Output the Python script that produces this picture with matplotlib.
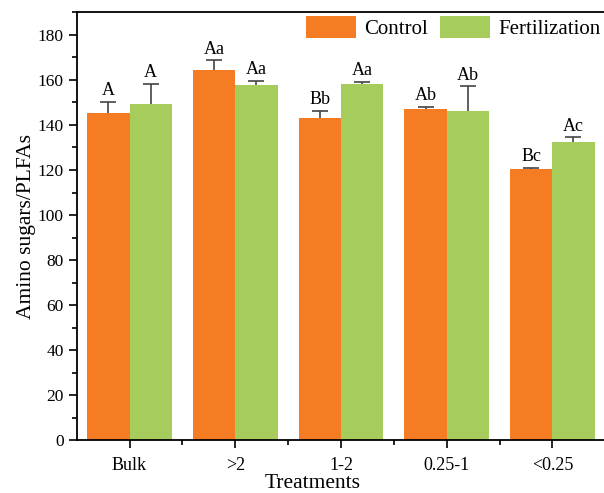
import matplotlib.pyplot as plt
import numpy as np
from matplotlib.ticker import MultipleLocator

plt.rcParams['font.family'] = ['Liberation Serif', 'DejaVu Serif']

treatments = ['Bulk', '>2', '1-2', '0.25-1', '<0.25']
control = [145.1, 164.3, 143.2, 147.2, 120.4]
control_err = [5.3, 4.4, 3.1, 0.7, 0.5]
fert = [149.1, 157.7, 158.1, 146.2, 132.4]
fert_err = [9.0, 1.9, 0.9, 10.9, 2.1]
control_lbl = ['A', 'Aa', 'Bb', 'Ab', 'Bc']
fert_lbl = ['A', 'Aa', 'Aa', 'Ab', 'Ac']

orange = '#F57C22'
green = '#A6CD5B'

fig = plt.figure(figsize=(6.04, 4.93), dpi=100)
ax = fig.add_axes([0.127, 0.107, 0.875, 0.868])

x = np.arange(len(treatments))
w = 0.4
# error bars drawn under the bars so only the upper half shows
ax.errorbar(x - w/2, control, yerr=control_err, fmt='none', ecolor='#444444',
            capsize=5.5, elinewidth=1.2, capthick=1.2, zorder=1)
ax.errorbar(x + w/2, fert, yerr=fert_err, fmt='none', ecolor='#444444',
            capsize=5.5, elinewidth=1.2, capthick=1.2, zorder=1)
ax.bar(x - w/2, control, w, color=orange, label='Control', zorder=2)
ax.bar(x + w/2, fert, w, color=green, label='Fertilization', zorder=2)

for i in range(len(x)):
    ax.text(x[i] - w/2, control[i] + control_err[i] + 1.2, control_lbl[i],
            ha='center', va='bottom', fontsize=13)
    ax.text(x[i] + w/2, fert[i] + fert_err[i] + 1.2, fert_lbl[i],
            ha='center', va='bottom', fontsize=13)

ax.set_xlim(-0.5, 4.5)
ax.set_ylim(0, 190)
ax.set_xticks(x)
ax.set_xticklabels(treatments, fontsize=13)
ax.set_xticks(x[:-1] + 0.5, minor=True)
ax.yaxis.set_major_locator(MultipleLocator(20))
ax.yaxis.set_minor_locator(MultipleLocator(10))
ax.tick_params(axis='y', labelsize=12.5)
ax.tick_params(axis='x', pad=6)
ax.tick_params(which='major', direction='out', length=6, width=1.2)
ax.tick_params(which='minor', direction='out', length=3.5, width=1.2)
for s in ['left', 'bottom', 'top']:
    ax.spines[s].set_linewidth(1.3)
ax.spines['right'].set_visible(False)

ax.set_xlabel('Treatments', fontsize=15.5)
ax.xaxis.set_label_coords(0.446, -0.078)
ax.set_ylabel('Amino sugars/PLFAs', fontsize=15.5)
ax.yaxis.set_label_coords(-0.077, 0.5)

ax.legend(loc='upper right', frameon=False, fontsize=15, ncol=2,
          handlelength=2.4, handleheight=1.2, columnspacing=0.6,
          handletextpad=0.4, borderaxespad=0.1, borderpad=0.1)

fig.savefig('out.png', dpi=100)
